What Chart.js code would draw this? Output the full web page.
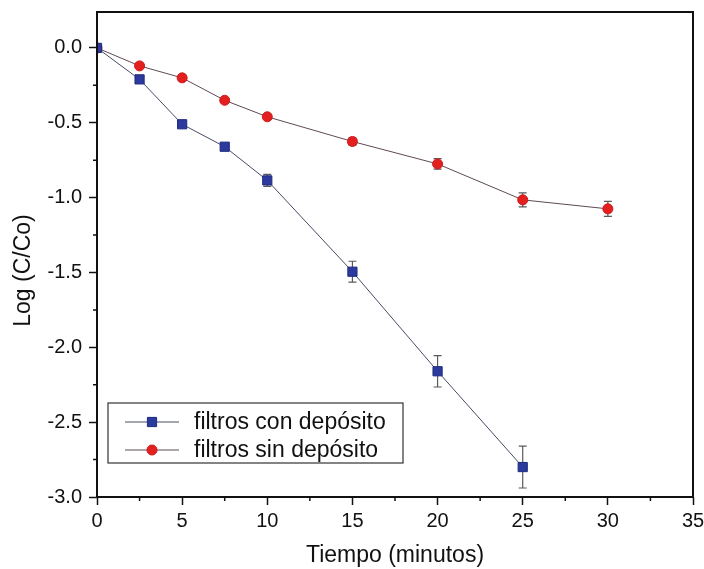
<!DOCTYPE html>
<html>
<head>
<meta charset="utf-8">
<script src="https://cdn.jsdelivr.net/npm/chart.js@4.4.1/dist/chart.umd.min.js"></script>
<style>
  html, body { margin: 0; padding: 0; background: #fff; }
  #wrap { width: 704px; height: 569px; }
</style>
</head>
<body>
<div id="wrap"><canvas id="chart"></canvas></div>
<script>
// tiempo (minutos) y Log(C/Co)
const tiempoCon = [0, 2.5, 5, 7.5, 10, 15, 20, 25];
const logCon = [0, -0.21, -0.51, -0.66, -0.885, -1.495, -2.16, -2.80];
const errCon = [0, 0.01, 0.015, 0.015, 0.04, 0.07, 0.105, 0.14];

const tiempoSin = [0, 2.5, 5, 7.5, 10, 15, 20, 25, 30];
const logSin = [0, -0.12, -0.20, -0.35, -0.46, -0.625, -0.775, -1.015, -1.075];
const errSin = [0, 0.01, 0.01, 0.015, 0.015, 0.025, 0.035, 0.047, 0.05];

const labels = ['filtros con depósito', 'filtros sin depósito'];
const FONT = 'Liberation Sans, Arial, sans-serif';

const toPoints = (xs, ys) => xs.map((t, i) => ({ x: t, y: ys[i] }));

// barras de error, detras de los marcadores
const errorBars = {
  id: 'errorBars',
  beforeDatasetsDraw(chart) {
    const { ctx } = chart;
    const yScale = chart.scales.y;
    ctx.save();
    ctx.strokeStyle = '#5a5a5a';
    ctx.lineWidth = 1.2;
    chart.data.datasets.forEach((ds, di) => {
      const meta = chart.getDatasetMeta(di);
      meta.data.forEach((pt, i) => {
        const e = ds.errors[i];
        if (!e) return;
        const top = yScale.getPixelForValue(ds.data[i].y + e);
        const bot = yScale.getPixelForValue(ds.data[i].y - e);
        ctx.beginPath();
        ctx.moveTo(pt.x, top); ctx.lineTo(pt.x, bot);
        ctx.moveTo(pt.x - 4, top); ctx.lineTo(pt.x + 4, top);
        ctx.moveTo(pt.x - 4, bot); ctx.lineTo(pt.x + 4, bot);
        ctx.stroke();
      });
    });
    ctx.restore();
  }
};

// marco y ticks menores
const frame = {
  id: 'frame',
  afterDraw(chart) {
    const { ctx, chartArea: a, scales: { x, y } } = chart;
    ctx.save();
    ctx.strokeStyle = '#111';
    ctx.lineWidth = 1.5;
    ctx.beginPath();
    for (let v = 2.5; v < x.max; v += 5) {
      const px = x.getPixelForValue(v);
      ctx.moveTo(px, a.bottom); ctx.lineTo(px, a.bottom + 4);
    }
    for (let v = -2.75; v < y.max; v += 0.5) {
      const py = y.getPixelForValue(v);
      ctx.moveTo(a.left, py); ctx.lineTo(a.left - 4, py);
    }
    ctx.stroke();
    ctx.lineWidth = 2;
    ctx.strokeRect(a.left, a.top, a.right - a.left, a.bottom - a.top);
    ctx.restore();
  }
};

// leyenda con recuadro dentro del area
const boxLegend = {
  id: 'boxLegend',
  afterDraw(chart) {
    const { ctx, chartArea: a } = chart;
    const left = a.left + 11, top = a.bottom - 94, w = 295, h = 60;
    ctx.save();
    ctx.fillStyle = '#fff';
    ctx.fillRect(left, top, w, h);
    ctx.strokeStyle = '#333';
    ctx.lineWidth = 1.2;
    ctx.strokeRect(left, top, w, h);
    chart.data.datasets.forEach((ds, i) => {
      const cy = top + 19 + i * 28;
      ctx.strokeStyle = ds.borderColor;
      ctx.lineWidth = 1;
      ctx.beginPath();
      ctx.moveTo(left + 17, cy); ctx.lineTo(left + 71, cy);
      ctx.stroke();
      ctx.fillStyle = ds.pointBackgroundColor;
      ctx.strokeStyle = ds.pointBorderColor;
      Chart.helpers.drawPoint(ctx, { pointStyle: ds.pointStyle, radius: ds.pointRadius, borderWidth: 1 }, left + 44, cy);
      ctx.fillStyle = '#111';
      ctx.font = '23px ' + FONT;
      ctx.textBaseline = 'middle';
      ctx.fillText(ds.label, left + 86, cy + 1);
    });
    ctx.restore();
  }
};

new Chart(document.getElementById('chart'), {
  type: 'line',
  data: {
    datasets: [
      {
        label: labels[0],
        data: toPoints(tiempoCon, logCon),
        errors: errCon,
        borderColor: '#464b62',
        borderWidth: 1,
        pointStyle: 'rect',
        pointRadius: 6.5,
        pointBackgroundColor: '#2b3a9c',
        pointBorderColor: '#1d2a7e',
        pointBorderWidth: 1,
        tension: 0
      },
      {
        label: labels[1],
        data: toPoints(tiempoSin, logSin),
        errors: errSin,
        borderColor: '#5e4a55',
        borderWidth: 1,
        pointStyle: 'circle',
        pointRadius: 5,
        pointBackgroundColor: '#e41f1f',
        pointBorderColor: '#cc1a1a',
        pointBorderWidth: 1,
        tension: 0
      }
    ]
  },
  options: {
    responsive: true,
    maintainAspectRatio: false,
    animation: false,
    layout: { padding: { top: 12, right: 11, left: 0, bottom: 0 } },
    plugins: { legend: { display: false }, tooltip: { enabled: false } },
    scales: {
      x: {
        type: 'linear',
        min: 0,
        max: 35,
        ticks: { stepSize: 5, padding: 4, color: '#111', font: { size: 20, family: FONT } },
        grid: { drawOnChartArea: false, tickLength: 8, tickColor: '#111', tickWidth: 1.5 },
        border: { display: false },
        title: { display: true, text: 'Tiempo (minutos)', color: '#111', font: { size: 23, family: FONT }, padding: { top: 0, bottom: 0 } },
        afterFit: s => { s.height = 72; s.paddingLeft = 0; s.paddingRight = 0; }
      },
      y: {
        min: -3,
        max: 0.24,
        ticks: { stepSize: 0.5, includeBounds: false, padding: 7, color: '#111', font: { size: 20, family: FONT }, callback: v => v.toFixed(1) },
        grid: { drawOnChartArea: false, tickLength: 8, tickColor: '#111', tickWidth: 1.5 },
        border: { display: false },
        title: { display: true, text: 'Log (C/Co)     ', color: '#111', font: { size: 23, family: FONT }, padding: { top: 10, bottom: 0 } },
        afterFit: s => { s.width = 97; s.paddingTop = 0; s.paddingBottom = 0; }
      }
    }
  },
  plugins: [errorBars, frame, boxLegend]
});
</script>
</body>
</html>
